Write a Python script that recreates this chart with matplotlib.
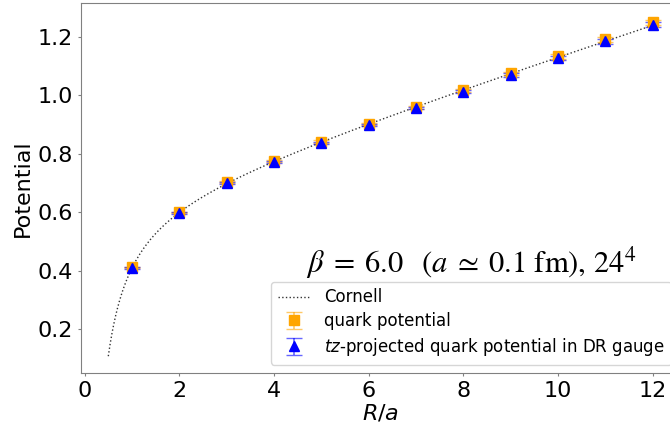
import numpy as np
import matplotlib
matplotlib.use("Agg")
import matplotlib.pyplot as plt

# lattice distances R/a
R = [1, 2, 3, 4, 5, 6, 7, 8, 9, 10, 11, 12]

# static quark potential (Wilson loops)
V_quark = [0.413, 0.600, 0.703, 0.776, 0.842, 0.902, 0.960, 1.018, 1.075, 1.133, 1.192, 1.250]
err_quark = [0.002, 0.002, 0.003, 0.003, 0.004, 0.004, 0.005, 0.005, 0.006, 0.007, 0.008, 0.009]

# tz-projected potential in DR gauge
V_tz = [0.410, 0.598, 0.700, 0.773, 0.838, 0.898, 0.957, 1.013, 1.070, 1.127, 1.185, 1.242]
err_tz = [0.002, 0.002, 0.003, 0.003, 0.004, 0.004, 0.005, 0.005, 0.006, 0.007, 0.008, 0.009]

# Cornell fit parameters: V(R) = V0 - A/R + sigma*R
V0 = 0.6325
A = 0.275
sigma = 0.0525

r_fit = np.linspace(0.5, 12, 300)
v_fit = V0 - A / r_fit + sigma * r_fit

fig = plt.figure(figsize=(6.7, 4.29), dpi=100)
ax = fig.add_axes([0.121, 0.1305, 0.894, 0.863])

ax.plot(r_fit, v_fit, ':', color='#333333', lw=1, label='Cornell')
eb1 = ax.errorbar(R, V_quark, yerr=err_quark, fmt='s', color='orange', ms=7,
                  capsize=6, elinewidth=1.2, label='quark potential')
eb2 = ax.errorbar(R, V_tz, yerr=err_tz, fmt='^', color='blue', ms=7,
                  capsize=6, elinewidth=1.2,
                  label=r'$tz$-projected quark potential in DR gauge')
for eb in (eb1, eb2):
    for ln in eb[1]:
        ln.set_alpha(0.6)
    for ln in eb[2]:
        ln.set_alpha(0.6)

ax.text(0.928, 0.298,
        r'$\beta\;=\;6.0\ \ \,(a\;\simeq\;0.1\ \mathrm{fm}),\,24^4$',
        transform=ax.transAxes, ha='right', va='center', fontsize=22,
        math_fontfamily='stix')

ax.set_xlabel(r'$R/a$', fontsize=16, labelpad=1)
ax.set_ylabel('Potential', fontsize=16, labelpad=3)
ax.tick_params(labelsize=16, color='gray', length=2.5, width=0.8, pad=3.5)
for s in ax.spines.values():
    s.set_color('gray')

ax.legend(loc='lower right', fontsize=12, labelspacing=0.35)

fig.savefig('out.png', dpi=100)
